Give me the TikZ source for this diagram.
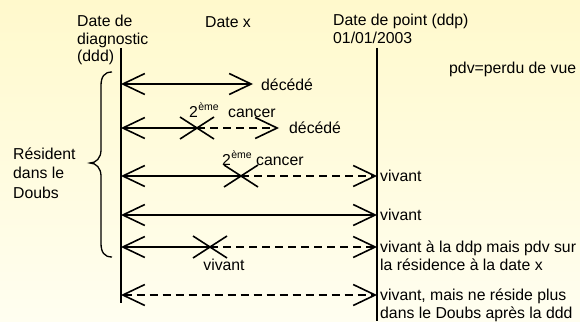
\documentclass[tikz,border=0pt]{standalone}
\usepackage{fontspec}
\setmainfont{Liberation Sans}
\usetikzlibrary{arrows.meta}
\definecolor{bgtop}{RGB}{255,249,204}
\definecolor{bgbot}{RGB}{255,254,240}
\tikzset{
  lbl/.style={anchor=base west, inner sep=0pt, font=\fontsize{15.8}{18}\selectfont},
  axis/.style={line width=1.6pt},
  life/.style={line width=1.6pt, {Straight Barb[length=22pt,width=21pt,line width=1.6pt]}-{Straight Barb[length=22pt,width=21pt,line width=1.6pt]}},
  lifeL/.style={line width=1.6pt, {Straight Barb[length=22pt,width=21pt,line width=1.6pt]}-},
  lifeR/.style={line width=1.6pt, -{Straight Barb[length=22pt,width=21pt,line width=1.6pt]}},
  dsh/.style={dash pattern=on 8pt off 5pt},
  crossmark/.pic={\draw[line width=1.6pt] (-17,-11) -- (17,11) (-17,11) -- (17,-11);},
  sup/.style={anchor=base west, inner sep=0pt, font=\fontsize{10.5}{12}\selectfont}
}
\begin{document}
\begin{tikzpicture}[x=1pt,y=-1pt]
\useasboundingbox (0,0) rectangle (580,321);
\shade[top color=bgtop, bottom color=bgbot] (0,0) rectangle (580,321);

% headers
\node[lbl] (h1) at (77,27) {Date de};
\node[lbl] (h2) at (77,44.5) {diagnostic};
\node[lbl] (h3) at (77,62) {(ddd)};
\node[lbl] (hx) at (205,28) {Date x};
\node[lbl] (hp1) at (333,26) {Date de point (ddp)};
\node[lbl] (hp2) at (333,43.5) {01/01/2003};
\node[lbl] (pdv) at (449,73) {pdv=perdu de vue};

% axes
\coordinate (ddtop) at (121,48);
\coordinate (ddbot) at (121,303);
\coordinate (dptop) at (377,48);
\coordinate (dpbot) at (377,321);
\draw[axis] (ddtop) -- (ddbot);
\draw[axis] (dptop) -- (dpbot);

% brace and group label
\draw[line width=1.3pt] (112,72) .. controls (104,72) and (101,77) .. (101,86) -- (101,150)
  .. controls (101,158) and (96,163) .. (90,163)
  .. controls (96,163) and (101,168) .. (101,176) -- (101,243)
  .. controls (101,252) and (104,257) .. (112,257);
\node[lbl] (r1) at (13,159) {Résident};
\node[lbl] (r2) at (13,178.5) {dans le};
\node[lbl] (r3) at (13,198) {Doubs};

% row 1
\coordinate (a1) at (121,84);
\coordinate (b1) at (253,84);
\draw[life] (a1) -- (b1);
\node[lbl] (d1) at (261,90) {décédé};

% row 2
\coordinate (a2) at (121,128);
\coordinate (c2) at (197,128);
\coordinate (b2) at (279,128);
\draw[lifeL] (a2) -- (c2);
\draw[lifeR,dsh] (c2) -- (b2);
\pic at (c2) {crossmark};
\node[lbl] (n2a) at (189,117) {2};
\node[sup] (s2a) at (n2a.base east) [yshift=7pt] {ème};
\node[lbl] (k2a) at (228,117) {cancer};
\node[lbl] (d2) at (289,133.5) {décédé};

% row 3
\coordinate (a3) at (121,176);
\coordinate (c3) at (241,176);
\coordinate (b3) at (377,176);
\draw[lifeL] (a3) -- (c3);
\draw[lifeR,dsh] (c3) -- (b3);
\pic at (c3) {crossmark};
\node[lbl] (n3a) at (222,165) {2};
\node[sup] (s3a) at (n3a.base east) [yshift=7pt] {ème};
\node[lbl] (k3a) at (256,165) {cancer};
\node[lbl] (v3) at (380,181.5) {vivant};

% row 4
\coordinate (a4) at (121,215);
\coordinate (b4) at (377,215);
\draw[life] (a4) -- (b4);
\node[lbl] (v4) at (380,220.5) {vivant};

% row 5
\coordinate (a5) at (121,247);
\coordinate (c5) at (210,247);
\coordinate (b5) at (377,247);
\draw[lifeL] (a5) -- (c5);
\draw[lifeR,dsh] (c5) -- (b5);
\pic at (c5) {crossmark};
\node[lbl, anchor=base] (v5x) at (224,270.5) {vivant};
\node[lbl] (v5a) at (380,252.5) {vivant à la ddp mais pdv sur};
\node[lbl] (v5b) at (380,270.5) {la résidence à la date x};

% row 6
\coordinate (a6) at (121,295);
\coordinate (b6) at (377,295);
\draw[life,dsh] (a6) -- (b6);
\node[lbl] (v6a) at (380,300.5) {vivant, mais ne réside plus};
\node[lbl] (v6b) at (380,318.5) {dans le Doubs après la ddd};
\end{tikzpicture}
\end{document}
